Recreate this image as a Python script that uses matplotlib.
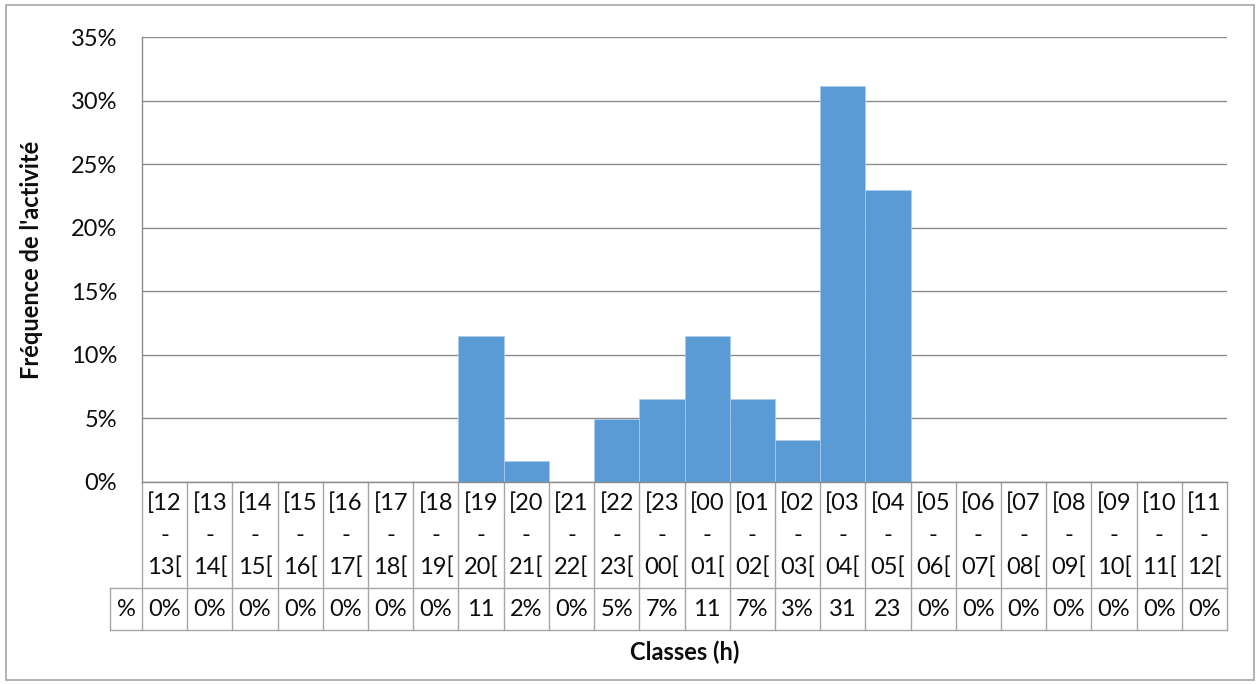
import matplotlib.pyplot as plt
from matplotlib.patches import Rectangle
from matplotlib.lines import Line2D

plt.rcParams['font.family'] = ['Lato', 'DejaVu Sans']

# Hourly classes, from midday to midday
classes = ["[12-13[", "[13-14[", "[14-15[", "[15-16[", "[16-17[", "[17-18[",
           "[18-19[", "[19-20[", "[20-21[", "[21-22[", "[22-23[", "[23-00[",
           "[00-01[", "[01-02[", "[02-03[", "[03-04[", "[04-05[", "[05-06[",
           "[06-07[", "[07-08[", "[08-09[", "[09-10[", "[10-11[", "[11-12["]
# Share of activity per class (%)
freq = [0, 0, 0, 0, 0, 0, 0, 11.48, 1.64, 0, 4.92, 6.56,
        11.48, 6.56, 3.28, 31.15, 22.95, 0, 0, 0, 0, 0, 0, 0]
yticks = [0, 5, 10, 15, 20, 25, 30, 35]

W, H = 1260, 684
FS = 17
TXT = '#0d0d0d'
fig = plt.figure(figsize=(W / 100, H / 100), dpi=100)

# plot area in pixels
x0, x1, ytop, ybot = 142, 1227, 37, 482
ax = fig.add_axes([x0 / W, (H - ybot) / H, (x1 - x0) / W, (ybot - ytop) / H])

n = len(classes)
pos = list(range(n))
ax.bar(pos, freq, width=1.0, color='#5B9BD5', edgecolor='#AFCDEB', linewidth=0.5, zorder=2)

ax.set_xlim(-0.5, n - 0.5)
ax.set_ylim(0, 35)
ax.set_yticks(yticks)
ax.set_yticklabels([f"{t}%" for t in yticks], fontsize=FS, color=TXT)
ax.tick_params(axis='y', length=0, pad=18)
ax.set_xticks([])
ax.yaxis.grid(True, color='#8c8c8c', linewidth=1.0, zorder=0)
ax.set_axisbelow(True)
for s in ['top', 'right']:
    ax.spines[s].set_visible(False)
for s in ['left', 'bottom']:
    ax.spines[s].set_color('#8c8c8c')
    ax.spines[s].set_linewidth(1.0)

ax.set_ylabel("Fréquence de l'activité", fontsize=FS, fontweight='bold', color=TXT)
ax.yaxis.set_label_coords(-0.091, 0.5)


# data table under the axis
def ay(py):
    return (ybot - py) / (ybot - ytop)


row1, row2 = 588, 630
lc = '#a6a6a6'
tr = ax.get_xaxis_transform()
for i in range(n + 1):
    ax.add_line(Line2D([i - 0.5, i - 0.5], [0, ay(row2)], transform=tr,
                       color=lc, linewidth=1.0, clip_on=False))
cell = (x1 - x0) / n
xl = -0.5 - (x0 - 110) / cell
for yy in (row1, row2):
    ax.add_line(Line2D([xl, n - 0.5], [ay(yy), ay(yy)], transform=tr,
                       color=lc, linewidth=1.0, clip_on=False))
ax.add_line(Line2D([xl, xl], [ay(row1), ay(row2)], transform=tr,
                   color=lc, linewidth=1.0, clip_on=False))
ax.text((xl - 0.5) / 2, ay(609), "%", transform=tr, ha='center', va='center',
        fontsize=FS, color=TXT)

for i, c in enumerate(classes):
    a, b = c[:-1].split('-')
    for txt, py in ((a, 503), ("-", 535), (b + "[", 567)):
        ax.text(i, ay(py), txt, transform=tr, ha='center', va='center',
                fontsize=FS, color=TXT)
    lab = f"{freq[i]:.0f}%"
    if len(lab) > 2:
        lab = lab[:-1]
    ax.text(i, ay(609), lab, transform=tr, ha='center', va='center',
            fontsize=FS, color=TXT)

ax.text((n - 1) / 2, ay(652), "Classes (h)", transform=tr, ha='center', va='center',
        fontsize=FS, fontweight='bold', color=TXT)

# chart border
fig.patches.append(Rectangle((6 / W, (H - 680) / H), (1254 - 6) / W, (680 - 5) / H,
                             transform=fig.transFigure, fill=False,
                             edgecolor='#a6a6a6', linewidth=1.2))

fig.savefig('out.png', dpi=100)
